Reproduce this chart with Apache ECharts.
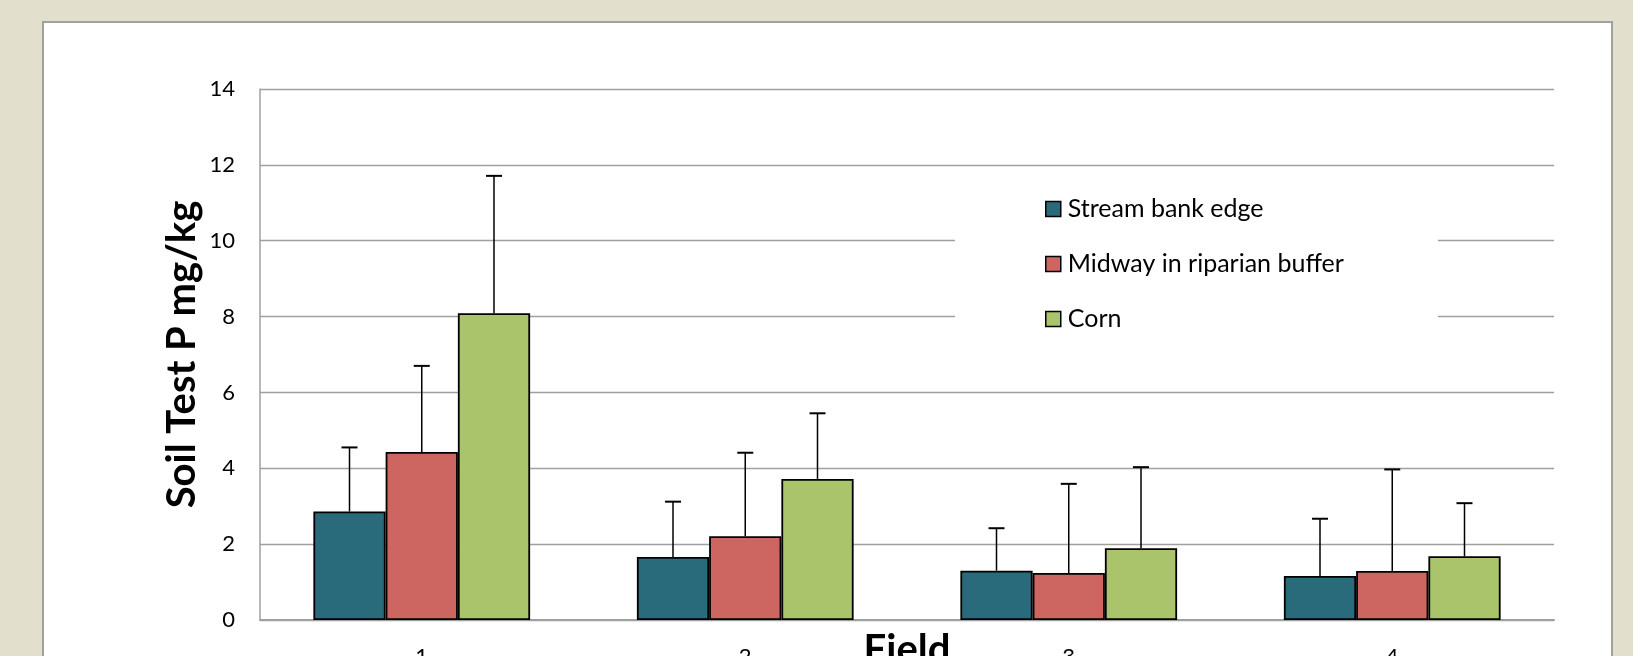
<!DOCTYPE html>
<html>
<head>
<meta charset="utf-8">
<script src="https://cdn.jsdelivr.net/npm/echarts@6/dist/echarts.min.js"></script>
<style>
  html, body { margin: 0; padding: 0; width: 1633px; height: 656px; overflow: hidden; background: #E2DFCC; }
  #panel { position: absolute; left: 42px; top: 21px; width: 1571px; height: 700px; background: #fff; border: 2px solid #A0A0A0; box-sizing: border-box; }
  #chart { position: absolute; left: 0; top: 0; width: 1633px; height: 656px; }
</style>
</head>
<body>
<div id="panel"></div>
<div id="chart"></div>
<script>
// ---- data ----
var categories = ['1', '2', '3', '4'];
var seriesNames = ['Stream bank edge', 'Midway in riparian buffer', 'Corn'];
var streamBank = [2.86, 1.66, 1.30, 1.16];
var midway     = [4.43, 2.21, 1.24, 1.29];
var corn       = [8.09, 3.72, 1.89, 1.68];
// upper error bar lengths (standard deviation)
var streamBankErr = [1.69, 1.46, 1.12, 1.51];
var midwayErr     = [2.27, 2.20, 2.35, 2.68];
var cornErr       = [3.62, 1.73, 2.14, 1.40];
var yTicks = { min: 0, max: 14, interval: 2 };

var colors = ['#2A6B7B', '#CD6660', '#AAC46C'];
var values = [streamBank, midway, corn];
var errs = [streamBankErr, midwayErr, cornErr];
var CAT_GAP = 0.33;
var FONT = 'Lato, "Open Sans", sans-serif';

function errRender(sIdx) {
  return function (params, api) {
    var cat = api.value(0), val = api.value(1), err = api.value(2);
    var base = api.coord([cat, val]);
    var top = api.coord([cat, val + err]);
    var band = api.size([1, 0])[0];
    var bw = band * (1 - CAT_GAP) / 3;
    var x = base[0] + (sIdx - 1) * bw;
    var half = 8;
    return {
      type: 'group',
      children: [
        { type: 'line', shape: { x1: x, y1: base[1], x2: x, y2: top[1] }, style: { stroke: '#000', lineWidth: 1.5 } },
        { type: 'line', shape: { x1: x - half, y1: top[1], x2: x + half, y2: top[1] }, style: { stroke: '#000', lineWidth: 2 } }
      ]
    };
  };
}

var series = [];
for (var i = 0; i < 3; i++) {
  series.push({
    name: seriesNames[i],
    type: 'bar',
    data: values[i],
    barGap: '0%',
    barCategoryGap: (CAT_GAP * 100) + '%',
    itemStyle: { color: colors[i], borderColor: '#000', borderWidth: 1.8 },
    emphasis: { disabled: true },
    z: 2
  });
}
for (var j = 0; j < 3; j++) {
  series.push({
    name: 'err' + j,
    type: 'custom',
    renderItem: errRender(j),
    data: values[j].map(function (v, k) { return [k, v, errs[j][k]]; }),
    encode: { x: 0, y: 1 },
    z: 3,
    silent: true
  });
}

var chart = echarts.init(document.getElementById('chart'), null, { renderer: 'canvas' });
chart.setOption({
  backgroundColor: 'transparent',
  animation: false,
  textStyle: { fontFamily: FONT },
  grid: { left: 260, right: 79, top: 89, bottom: 36, containLabel: false, outerBoundsMode: 'none' },
  legend: {
    data: seriesNames,
    orient: 'vertical',
    left: 955,
    top: 178,
    padding: [18, 94, 18, 90],
    backgroundColor: '#fff',
    itemWidth: 15,
    itemHeight: 15,
    itemGap: 29,
    icon: 'rect',
    itemStyle: { borderColor: '#000', borderWidth: 1.5 },
    textStyle: { fontFamily: FONT, fontSize: 25, color: '#000', lineHeight: 26, padding: [0, 0, 0, 2] },
    z: 10
  },
  xAxis: {
    type: 'category',
    data: categories,
    name: 'Field',
    nameLocation: 'middle',
    nameGap: 10,
    nameMoveOverlap: false,
    nameTextStyle: { fontFamily: FONT, fontSize: 40, fontWeight: 'bold', color: '#000', verticalAlign: 'top' },
    axisLine: { lineStyle: { color: '#A0A0A0', width: 2 } },
    axisTick: { show: false },
    axisLabel: { fontFamily: FONT, fontSize: 22, color: '#000', margin: 26 },
    splitLine: { show: false }
  },
  yAxis: {
    type: 'value',
    min: yTicks.min,
    max: yTicks.max,
    interval: yTicks.interval,
    name: 'Soil Test P mg/kg',
    nameLocation: 'middle',
    nameRotate: 90,
    nameGap: 58,
    nameMoveOverlap: false,
    nameTextStyle: { fontFamily: FONT, fontSize: 40, fontWeight: 'bold', color: '#000' },
    axisLine: { show: true, lineStyle: { color: '#A0A0A0', width: 1.5 } },
    axisTick: { show: false },
    axisLabel: { fontFamily: FONT, fontSize: 22, color: '#000', margin: 25 },
    splitLine: { lineStyle: { color: '#A0A0A0', width: 1.4 } }
  },
  series: series
});
</script>
</body>
</html>
